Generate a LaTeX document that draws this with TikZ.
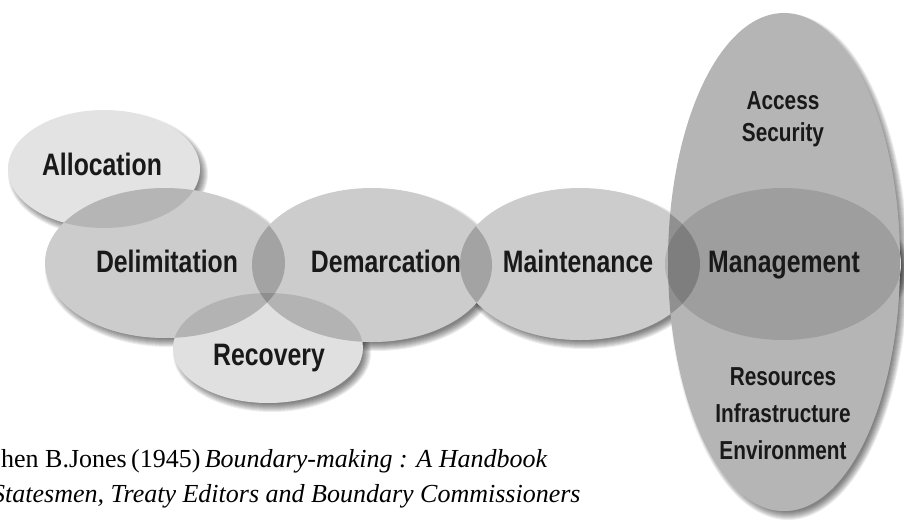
\documentclass[tikz,border=0pt]{standalone}
\usepackage{fontspec}
\setmainfont{Liberation Serif}
\newfontfamily\labelfont{Liberation Sans}[FakeStretch=0.8]
\definecolor{labelgray}{RGB}{25,25,25}
\begin{document}
\begin{tikzpicture}[x=1pt,y=-1pt,
    phase/.style={font=\labelfont\bfseries\fontsize{31}{31}\selectfont,text=labelgray,anchor=base,inner sep=0pt},
    task/.style={font=\labelfont\bfseries\fontsize{26}{26}\selectfont,text=labelgray,anchor=base,inner sep=0pt},
    source/.style={font=\fontsize{26}{26}\selectfont,anchor=base west,inner sep=0pt}]
  \useasboundingbox (0,0) rectangle (904,522);
  \clip (0,0) rectangle (904,522);

  \def\zones{104/169/96/59/0.11, 165/263/120/75/0.2, 372/265/120/77/0.2, 580/264/120/76/0.2,
    268/348/95/55/0.12, 784/262/116/249/0.29, 783/264/118/76/0.12}
  \foreach \cx/\cy/\rx/\ry/\op in \zones
    \foreach \s in {-4,...,4}
      \fill[black,opacity=0.07] (\cx+4,\cy+5) ellipse ({\rx+\s} and {\ry+\s});
  \foreach \cx/\cy/\rx/\ry/\op in \zones
    \fill[white] (\cx,\cy) ellipse ({\rx} and {\ry});
  \foreach \cx/\cy/\rx/\ry/\op in \zones
    \fill[black,opacity=\op] (\cx,\cy) ellipse ({\rx} and {\ry});

  \node[phase] (allocation) at (102,175) {Allocation};
  \node[phase] (delimitation) at (167,272) {Delimitation};
  \node[phase] (demarcation) at (386,272) {Demarcation};
  \node[phase] (maintenance) at (578,272) {Maintenance};
  \node[phase] (management) at (784,272) {Management};
  \node[phase] (recovery) at (269,365) {Recovery};

  \node[task] (access) at (783,109) {Access};
  \node[task] (security) at (783,141) {Security};
  \node[task] (resources) at (783,385) {Resources};
  \node[task] (infrastructure) at (783,422) {Infrastructure};
  \node[task] (environment) at (783,459) {Environment};

  \node[source] (sourcea) at (1,467) {hen B.Jones\,(1945)\,\textit{Boundary-making : A Handbook}};
  \node[source] (sourceb) at (-8,502) {\textit{Statesmen, Treaty Editors and Boundary Commissioners}};
\end{tikzpicture}
\end{document}
